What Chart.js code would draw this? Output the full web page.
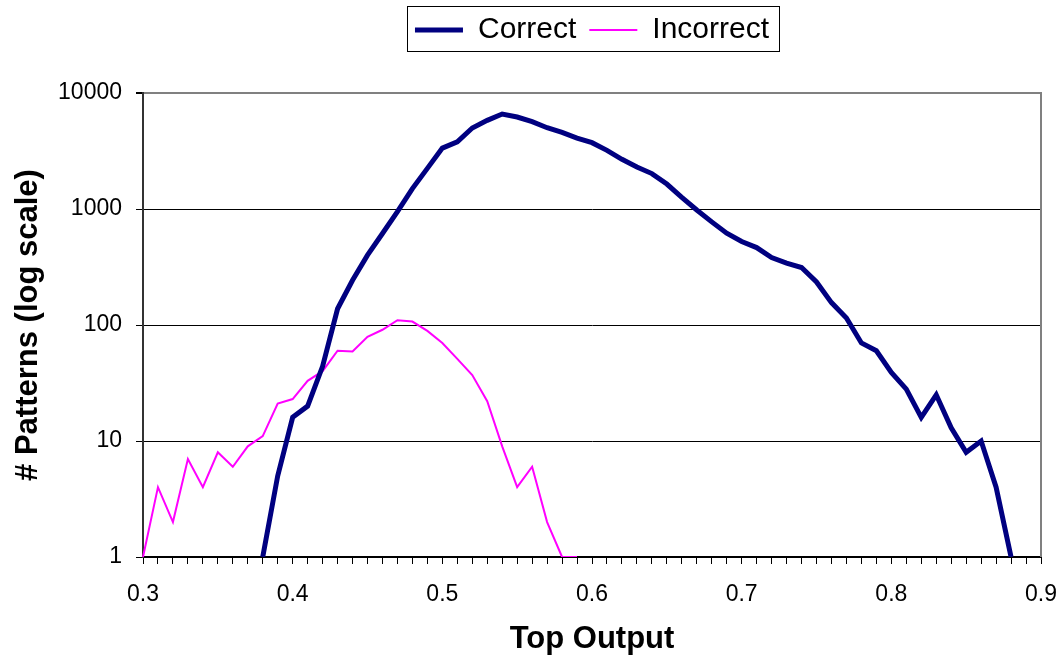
<!DOCTYPE html>
<html>
<head>
<meta charset="utf-8">
<title>Top Output</title>
<script src="https://cdn.jsdelivr.net/npm/chart.js@4.4.1/dist/chart.umd.min.js"></script>
<style>
    html, body { margin: 0; padding: 0; background: #ffffff; }
    #wrap { width: 1064px; height: 655px; }
</style>
</head>
<body>
<div id="wrap"><canvas id="grafik"></canvas></div>
<script>
// x categories (top output, step 0.01)
const kategori = [
    '0.30', '0.31', '0.32', '0.33', '0.34', '0.35', '0.36', '0.37', '0.38', '0.39',
    '0.40', '0.41', '0.42', '0.43', '0.44', '0.45', '0.46', '0.47', '0.48', '0.49',
    '0.50', '0.51', '0.52', '0.53', '0.54', '0.55', '0.56', '0.57', '0.58', '0.59',
    '0.60', '0.61', '0.62', '0.63', '0.64', '0.65', '0.66', '0.67', '0.68', '0.69',
    '0.70', '0.71', '0.72', '0.73', '0.74', '0.75', '0.76', '0.77', '0.78', '0.79',
    '0.80', '0.81', '0.82', '0.83', '0.84', '0.85', '0.86', '0.87', '0.88', '0.89',
    '0.90'
];

// only every 10th category gets a label
const labelSumbuX = ['0.3', '0.4', '0.5', '0.6', '0.7', '0.8', '0.9'];
const tickSumbuY = [1, 10, 100, 1000, 10000];

const dataCorrect = [
    null, null, null, null, null, null, null, null, 1, 5,
    16, 20, 44, 138, 243, 400, 615, 950, 1500, 2240,
    3350, 3800, 4990, 5810, 6590, 6210, 5660, 5020, 4580, 4090,
    3730, 3200, 2680, 2300, 2020, 1640, 1260, 980, 775, 618,
    524, 465, 381, 341, 313, 235, 156, 115, 70, 60,
    39, 28, 16, 25, 13, 8, 10, 4, 1, null,
    null
];

const dataIncorrect = [
    1, 4, 2, 7, 4, 8, 6, 9, 11, 21,
    23, 33, 40, 60, 59, 79, 91, 110, 107, 89,
    70, 51, 37, 22, 9, 4, 6, 2, 1, 1,
    null, null, null, null, null, null, null, null, null, null,
    null, null, null, null, null, null, null, null, null, null,
    null, null, null, null, null, null, null, null, null, null,
    null
];

const FONT = "'Liberation Sans', Arial, sans-serif";
Chart.defaults.font.family = FONT;
Chart.defaults.color = '#000000';

// frame around legend + gray border on the right of the plot
const bingkai = {
    id: 'bingkai',
    afterDraw(chart) {
        const ctx = chart.ctx;
        const area = chart.chartArea;
        ctx.save();
        ctx.strokeStyle = '#808080';
        ctx.lineWidth = 2;
        ctx.beginPath();
        ctx.moveTo(area.right, area.top - 1);
        ctx.lineTo(area.right, area.bottom);
        ctx.stroke();

        const boxes = chart.legend.legendHitBoxes;
        if (boxes && boxes.length) {
            const kiri = boxes[0].left - 8;
            const last = boxes[boxes.length - 1];
            const kanan = last.left + last.width + 10;
            const atas = boxes[0].top - 9;
            const bawah = boxes[0].top + boxes[0].height + 6;
            ctx.strokeStyle = '#000000';
            ctx.lineWidth = 1;
            ctx.strokeRect(Math.round(kiri) + 0.5, Math.round(atas) + 0.5,
                Math.round(kanan - kiri), Math.round(bawah - atas));
        }
        ctx.restore();
    }
};

new Chart(document.getElementById('grafik'), {
    type: 'line',
    data: {
        labels: kategori,
        datasets: [{
            label: 'Correct',
            data: dataCorrect,
            xAxisID: 'x',
            yAxisID: 'y',
            borderColor: '#000080',
            backgroundColor: '#000080',
            borderWidth: 5,
            pointRadius: 0,
            tension: 0,
            spanGaps: false
        }, {
            label: 'Incorrect',
            data: dataIncorrect,
            xAxisID: 'x',
            yAxisID: 'y',
            borderColor: '#ff00ff',
            backgroundColor: '#ff00ff',
            borderWidth: 2,
            pointRadius: 0,
            tension: 0,
            spanGaps: false
        }]
    },
    options: {
        responsive: true,
        maintainAspectRatio: false,
        animation: false,
        layout: { padding: { top: 2, right: 23, bottom: 0, left: 0 } },
        plugins: {
            legend: {
                position: 'top',
                fullSize: false,
                labels: {
                    usePointStyle: true,
                    pointStyle: 'line',
                    pointStyleWidth: 48,
                    padding: 13,
                    color: '#000000',
                    font: { size: 30 }
                }
            },
            tooltip: { enabled: false }
        },
        scales: {
            x: {
                type: 'category',
                grid: {
                    drawOnChartArea: false,
                    drawTicks: true,
                    tickLength: 7,
                    tickColor: '#000000',
                    lineWidth: 1
                },
                border: { display: true, color: '#000000', width: 2 },
                ticks: {
                    autoSkip: false,
                    maxRotation: 0,
                    minRotation: 0,
                    padding: 17,
                    color: '#000000',
                    font: { size: 23 },
                    callback: (v, i) => (i % 10 === 0 ? labelSumbuX[i / 10] : '')
                },
                title: {
                    display: true,
                    text: 'Top Output',
                    color: '#000000',
                    font: { size: 31, weight: 'bold' },
                    padding: { top: 0, bottom: -3 }
                },
                afterFit(s) {
                    s.height = 98;
                    s.paddingLeft = 16;
                    s.paddingRight = 16;
                }
            },
            y: {
                type: 'logarithmic',
                min: 1,
                max: 10000,
                afterBuildTicks(s) {
                    s.ticks = tickSumbuY.map(v => ({ value: v }));
                },
                grid: {
                    color: c => (c.tick && c.tick.value === 10000 ? '#808080' : '#000000'),
                    lineWidth: c => (c.tick && c.tick.value === 10000 ? 2 : 1),
                    tickLength: 7,
                    tickColor: '#000000'
                },
                border: { display: true, color: '#333333', width: 2 },
                ticks: {
                    padding: 14,
                    color: '#000000',
                    font: { size: 23 },
                    callback: v => String(v)
                },
                title: {
                    display: true,
                    text: '# Patterns (log scale)',
                    color: '#000000',
                    font: { size: 31, weight: 'bold' },
                    padding: { top: 10, bottom: 0 }
                },
                afterFit(s) { s.width = 143; }
            },
            // empty band between legend and plot
            jarak: {
                type: 'category',
                position: 'top',
                labels: [''],
                grid: { display: false },
                border: { display: false },
                ticks: { display: false },
                afterFit(s) { s.height = 38; }
            }
        }
    },
    plugins: [bingkai]
});
</script>
</body>
</html>
